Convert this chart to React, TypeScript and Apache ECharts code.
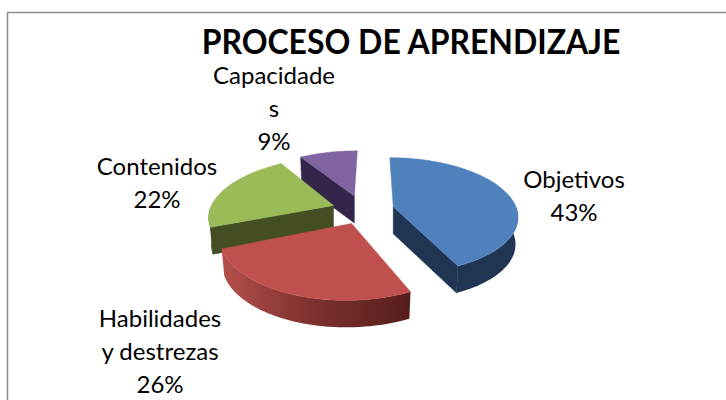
import React, { useEffect, useRef } from "react";
import * as echarts from "echarts";

const categories = ["Objetivos", "Habilidades\ny destrezas", "Contenidos", "Capacidade\ns"];
const values = [43, 26, 22, 9];
const percentLabels = ["43%", "26%", "22%", "9%"];
const topColors = ["#4F81BD", "#C0504D", "#9BBB59", "#8064A2"];
const wallColors = ["#1F3552", "#7A2F2D", "#434F23", "#33264A"];
const titleText = "PROCESO DE APRENDIZAJE";

const CX = 363, CY = 210, RX = 124, RY = 58, K = 0.15, EXPLODE = 0.25, DEPTH = 27;
const total = values.reduce((a, b) => a + b, 0);

function poly(points: number[][], fill: any) {
  return { type: "polygon", shape: { points }, style: { fill, stroke: fill, lineWidth: 0.5 } };
}

function renderItem(params: any, api: any) {
  const i = api.value(0);
  const start = (api.value(1) / total) * 360;
  const end = start + (api.value(2) / total) * 360;
  const mid = (((start + end) / 2) * Math.PI) / 180;
  const bv = -Math.cos(mid);
  const ax = CX + RX * EXPLODE * Math.sin(mid);
  const ay = CY + RY * EXPLODE * bv;
  const sx = 1 / (1 - 0.05 * bv);
  const sy = 1 / (1 - 0.12 * bv);
  const shear = 0.0035 * (ax - 373);
  const rimPoint = (deg: number) => {
    const t = (deg * Math.PI) / 180;
    const u = Math.sin(t), v = -Math.cos(t);
    const s = 1 / (1 - K * v);
    const dy = RY * sy * v * s;
    return [ax + RX * sx * u * s + shear * dy, ay + dy];
  };
  const rim: number[][] = [];
  for (let d = start; d < end; d += 2) rim.push(rimPoint(d));
  rim.push(rimPoint(end));
  const down = (p: number[]) => [ax + (p[0] - ax) * 0.98, p[1] + DEPTH];
  const children: any[] = [];
  const apex = [ax, ay];
  const normalV = (deg: number) => -Math.cos((deg * Math.PI) / 180);
  if (normalV(start - 90) > 0.01) {
    const p = rim[0];
    children.push(poly([apex, p, down(p), down(apex)], wallColors[i]));
  }
  if (normalV(end + 90) > 0.01) {
    const p = rim[rim.length - 1];
    children.push(poly([apex, p, down(p), down(apex)], wallColors[i]));
  }
  const front = rim.filter((_, j) => {
    const d = Math.min(start + j * 2, end);
    return d >= 90 && d <= 270;
  });
  if (front.length > 1) {
    const fill =
      i === 1
        ? new echarts.graphic.LinearGradient(0, 0, 1, 0, [
            { offset: 0, color: "#B5504C" },
            { offset: 0.45, color: "#80322F" },
            { offset: 1, color: "#551F1E" },
          ])
        : wallColors[i];
    children.push({
      type: "polygon",
      shape: { points: [...front, ...front.slice().reverse().map(down)] },
      style: { fill },
    });
  }
  children.push(poly([apex, ...rim], topColors[i]));
  return { type: "group", children };
}

export default function App() {
  const ref = useRef<HTMLDivElement>(null);
  useEffect(() => {
    const chart = echarts.init(ref.current!, undefined, { renderer: "svg" });
    let acc = 0;
    const rows = values.map((v, i) => {
      const row = [i, acc, v];
      acc += v;
      return row;
    });
    const order = [3, 2, 1, 0];
    const labelPos = [
      [574, 195],
      [160, 350],
      [157, 182],
      [274, 107],
    ];
    chart.setOption({
      animation: false,
      backgroundColor: "#FFFFFF",
      graphic: [
        {
          type: "rect",
          silent: true,
          shape: { x: 7.5, y: 12.5, width: 760, height: 420 },
          style: { fill: "none", stroke: "#8C8C8C", lineWidth: 1.5 },
        },
        {
          type: "text",
          x: 411,
          y: 41,
          scaleX: 0.94,
          style: {
            text: titleText,
            fontFamily: "Lato",
            fontWeight: "bold",
            fontSize: 34,
            align: "center",
            verticalAlign: "middle",
            fill: "#000000",
          },
        },
        ...categories.map((c, i) => ({
          type: "text",
          x: labelPos[i][0],
          y: labelPos[i][1],
          style: {
            text: c + "\n" + percentLabels[i],
            fontFamily: "Lato",
            fontSize: 24,
            lineHeight: 33,
            align: "center",
            verticalAlign: "middle",
            fill: "#000000",
          },
        })),
      ],
      series: [
        {
          type: "custom",
          coordinateSystem: "none",
          renderItem,
          data: order.map((i) => rows[i]),
          silent: true,
        },
      ],
    });
    return () => chart.dispose();
  }, []);
  return <div ref={ref} style={{ position: "fixed", left: 0, top: 0, width: 726, height: 400 }} />;
}
